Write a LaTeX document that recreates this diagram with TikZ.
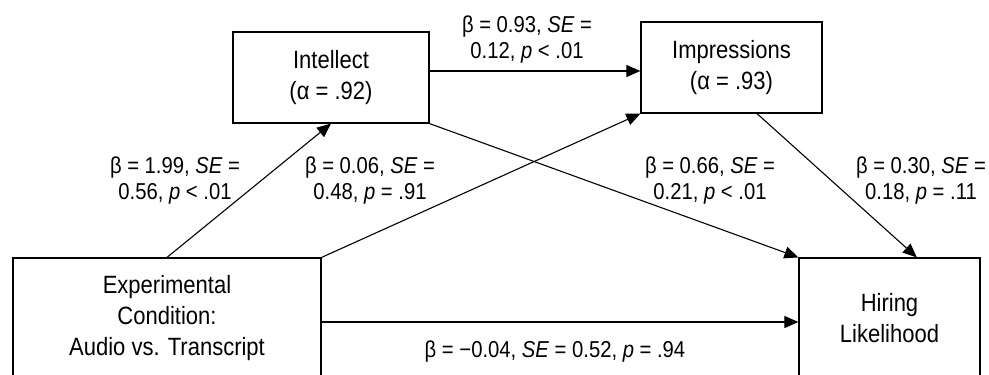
\documentclass[tikz,border=0pt]{standalone}
\usepackage{fontspec}
\setmainfont{Liberation Sans}[FakeStretch=0.88]
\usetikzlibrary{arrows.meta,calc}
\begin{document}
\begin{tikzpicture}[x=1pt,y=-1pt,
  box/.style={draw,line width=1.2pt,inner sep=0pt,align=center,font=\fontsize{25}{31}\selectfont},
  lab/.style={inner sep=0pt,align=center,font=\fontsize{23}{26}\selectfont},
  arr/.style={line width=1.1pt,-{Triangle[length=14pt,width=12pt]}}]
\useasboundingbox (0,0) rectangle (989,375);
\clip (0,0) rectangle (989,375);
\node[box,minimum width=196pt,minimum height=91pt] (Intel) at (331,77.5) {Intellect\\(α = .92)};
\node[box,minimum width=181pt,minimum height=91pt] (Impr) at (731.5,67.5) {Impressions\\(α = .93)};
\node[box,minimum width=308pt,minimum height=120pt] (Exp) at (167,318) {Experimental\\Condition:\\Audio vs. Transcript};
\node[box,minimum width=181pt,minimum height=120pt] (Hire) at (889.5,318) {Hiring\\Likelihood};
% labels
\node[lab] (L1) at (527,40) {β = 0.93, \textit{SE} =\\0.12, \textit{p} < .01};
\node[lab] (L2) at (175,181) {β = 1.99, \textit{SE} =\\0.56, \textit{p} < .01};
\node[lab] (L3) at (370,181) {β = 0.06, \textit{SE} =\\0.48, \textit{p} = .91};
\node[lab] (L4) at (710,181) {β = 0.66, \textit{SE} =\\0.21, \textit{p} < .01};
\node[lab] (L5) at (921,181) {β = 0.30, \textit{SE} =\\0.18, \textit{p} = .11};
\node[lab] (L6) at (555,352) {β = −0.04, \textit{SE} = 0.52, \textit{p} = .94};
% connectors
\coordinate (a1) at ([yshift=6.5pt]Intel.east);
\draw[arr] (a1) -- (a1 -| Impr.west);
\draw[arr] (Exp.north) -- (Intel.south);
\draw[arr] (Exp.north east) -- (Impr.south west);
\draw[arr] (Intel.south east) -- (Hire.north west);
\coordinate (b1) at ($(Impr.south west)!0.64!(Impr.south east)$);
\coordinate (b2) at ($(Hire.north west)!0.65!(Hire.north east)$);
\draw[arr] (b1) -- (b2);
\coordinate (c1) at ([yshift=-4pt]Exp.east);
\draw[arr] (c1) -- (c1 -| Hire.west);
\end{tikzpicture}
\end{document}
